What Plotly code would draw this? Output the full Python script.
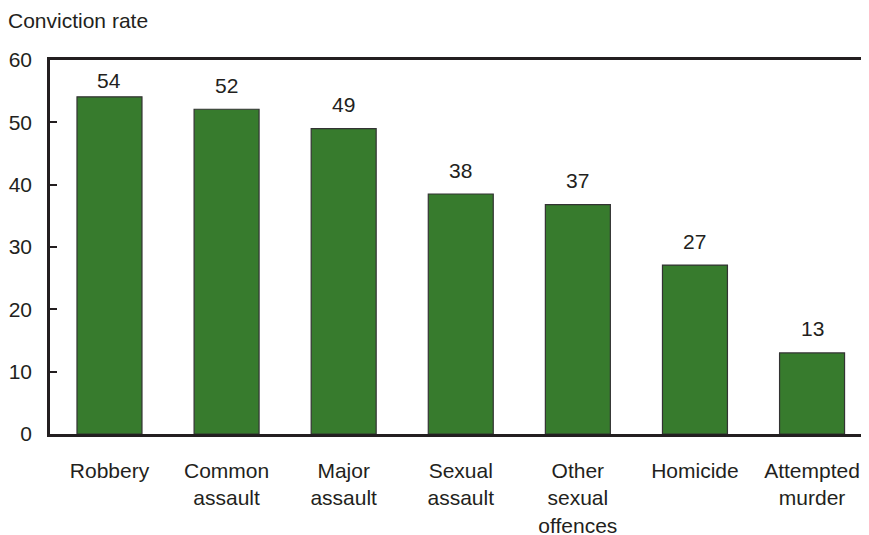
import plotly.graph_objects as go

categories = ["Robbery", "Common<br>assault", "Major<br>assault", "Sexual<br>assault",
              "Other<br>sexual<br>offences", "Homicide", "Attempted<br>murder"]
rates = [54.1, 52.1, 49.0, 38.5, 36.8, 27.1, 13.0]
rate_labels = ["54", "52", "49", "38", "37", "27", "13"]
y_ticks = [0, 10, 20, 30, 40, 50, 60]

FONT = "Liberation Sans, Arial, sans-serif"
INK = "#231f20"

# the page body keeps an 8px margin, so the figure sits 8px in from the corner
W, H = 853, 527
M = dict(l=42, r=0, t=52, b=101)
px_per_unit = (H - M["t"] - M["b"]) / 60

fig = go.Figure()
fig.add_trace(
    go.Bar(
        x=list(range(len(categories))),
        y=rates,
        width=0.555,
        marker=dict(color="#377b2d", line=dict(color="#333333", width=1.2)),
        hoverinfo="skip",
    )
)

# value labels above bars, kept clear of the top frame line
for i, (v, lab) in enumerate(zip(rates, rate_labels)):
    ly = min(v + 24 / px_per_unit, 60 - 20 / px_per_unit)
    fig.add_annotation(
        x=i, y=ly, text=lab, showarrow=False, yanchor="middle",
        font=dict(family=FONT, size=21, color=INK),
    )

fig.add_annotation(
    x=0, y=1, xref="paper", yref="paper", xshift=-44, yshift=40,
    text="Conviction rate", showarrow=False, xanchor="left", yanchor="middle",
    font=dict(family=FONT, size=21, color=INK),
)

fig.update_xaxes(
    range=[-0.508, 6.418],
    automargin=False,
    tickmode="array",
    tickvals=list(range(len(categories))),
    ticktext=categories,
    ticks="outside", ticklen=16, tickcolor="rgba(0,0,0,0)",
    showline=True, linecolor=INK, linewidth=2.5,
    mirror=True,
    showgrid=False, zeroline=False,
    tickfont=dict(family=FONT, size=21, color=INK),
)
fig.update_yaxes(
    range=[0, 60],
    automargin=False,
    tickmode="array",
    tickvals=y_ticks,
    ticks="inside", ticklen=7, tickwidth=2, tickcolor=INK,
    showline=True, linecolor=INK, linewidth=2.5,
    showgrid=False, zeroline=False,
    tickfont=dict(family=FONT, size=21, color=INK),
    ticklabelstandoff=11,
)
fig.update_layout(
    width=W, height=H,
    margin=M,
    plot_bgcolor="white", paper_bgcolor="white",
    showlegend=False,
)
fig.write_html("out.html")
